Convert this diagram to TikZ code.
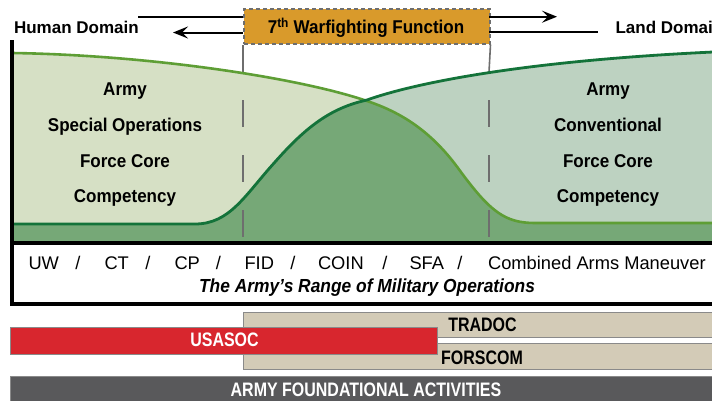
\documentclass[tikz,border=0pt]{standalone}
\usepackage{fontspec}
\setmainfont{Liberation Sans}
\newfontfamily\fN{Liberation Sans}
\newfontfamily\fA[FakeStretch=0.92]{Liberation Sans}
\newfontfamily\fB[FakeStretch=0.82]{Liberation Sans}
\usetikzlibrary{arrows.meta}
\definecolor{orangebox}{HTML}{D99A2B}
\definecolor{lgreen}{HTML}{D6E0C5}
\definecolor{rgreen}{HTML}{BDD2C1}
\definecolor{mgreen}{HTML}{76A877}
\definecolor{lline}{HTML}{5E9E35}
\definecolor{dline}{HTML}{14733A}
\definecolor{tanbar}{HTML}{D3CBB7}
\definecolor{redbar}{HTML}{D8262E}
\definecolor{darkbar}{HTML}{59595B}
\definecolor{guide}{HTML}{6E6E6E}
\definecolor{barline}{HTML}{8A8A8A}
\def\lightcurve{(12,53) .. controls (150,55) and (300,78) .. (367,101) .. controls (400,112) and (430,130) .. (458,168) .. controls (490,212) and (505,223) .. (535,223) -- (713,223)}
\def\darkcurve{(12,224) -- (195,224) .. controls (230,224) and (245,195) .. (275,162) .. controls (305,128) and (330,108) .. (367,100) .. controls (400,88) and (500,62) .. (713,52)}
\begin{document}
\begin{tikzpicture}[x=1pt,y=-1pt,
  domtext/.style={anchor=base west,font=\fN\bfseries\fontsize{17}{20}\selectfont},
  coretext/.style={anchor=base,font=\fA\bfseries\fontsize{18.5}{20}\selectfont},
  opstext/.style={anchor=base west,font=\fN\fontsize{18.3}{20}\selectfont},
  slashtext/.style={anchor=base,font=\fN\fontsize{18.3}{20}\selectfont},
  bartext/.style={anchor=base,font=\fB\bfseries\fontsize{19.5}{20}\selectfont},
  arr/.style={line width=2pt,-{Stealth[length=15pt,width=12pt,inset=6pt]}},
  plainline/.style={line width=2pt},
  guideline/.style={guide,line width=1.6pt},
  frameline/.style={line width=3.5pt,black},
  barbox/.style={draw=barline,line width=1pt}]
\useasboundingbox (0,0) rectangle (712,400);
\clip (0,0) rectangle (712,400);
\fill[white] (0,0) rectangle (712,400);

% curve regions
\fill[lgreen] \lightcurve -- (713,243) -- (12,243) -- cycle;
\fill[rgreen] \darkcurve -- (713,243) -- (12,243) -- cycle;
\begin{scope}
  \clip \lightcurve -- (713,243) -- (12,243) -- cycle;
  \fill[mgreen] \darkcurve -- (713,243) -- (12,243) -- cycle;
\end{scope}

% warfighting box and guide lines
\node[draw=guide,dash pattern=on 4pt off 3pt,line width=1.5pt,fill=orangebox,minimum width=246pt,minimum height=35pt,inner sep=0pt,anchor=north west] (wf) at (243,8) {};
\node[anchor=base,font=\fA\bfseries\fontsize{18.5}{20}\selectfont] (wflabel) at (366,33.3) {7\textsuperscript{th} Warfighting Function};
\coordinate (gl1) at (243,72);
\coordinate (gr1) at (489,72);
\draw[guideline] (wf.south west) -- (gl1);
\draw[guideline] (wf.south east) -- (gr1);
\coordinate (gl2) at (243,100);
\coordinate (gl3) at (243,237);
\coordinate (gr2) at (489,100);
\coordinate (gr3) at (489,237);
\draw[guideline,dash pattern=on 27pt off 28pt] (gl2) -- (gl3);
\draw[guideline,dash pattern=on 27pt off 28pt] (gr2) -- (gr3);

% curves
\draw[lline,line width=2.6pt] \lightcurve;
\draw[dline,line width=2.8pt] \darkcurve;

% domain arrows
\coordinate (la) at (243,16.5);
\coordinate (lb) at (137.5,16.5);
\coordinate (lc) at (243,32.5);
\coordinate (ld) at (173,32.5);
\coordinate (ra) at (489,16.7);
\coordinate (rb) at (557,16.7);
\coordinate (rc) at (489,32);
\coordinate (rd) at (598,32);
\draw[plainline] (la) -- (lb);
\draw[arr] (lc) -- (ld);
\draw[arr] (ra) -- (rb);
\draw[plainline] (rc) -- (rd);
\node[domtext] (human) at (10.5,33.3) {Human Domain};
\node[domtext] (land) at (612,33.3) {Land Domain};

% core competency texts
\node[coretext] (sa) at (125,95.7) {Army};
\node[coretext] (sb) at (125,131.4) {Special Operations};
\node[coretext] (sc) at (125,167) {Force Core};
\node[coretext] (sd) at (125,202.7) {Competency};
\node[coretext] (ca) at (608,95.7) {Army};
\node[coretext] (cb) at (608,131.4) {Conventional};
\node[coretext] (cc) at (608,167) {Force Core};
\node[coretext] (cd) at (608,202.7) {Competency};

% frame
\draw[frameline] (12,40) -- (12,305.75);
\draw[frameline] (10.25,243) -- (713,243);
\draw[frameline] (10.25,304) -- (713,304);

% range of operations
\node[opstext] (uw) at (25,269) {UW};
\node[slashtext] (s1) at (78,269) {/};
\node[opstext] (ct) at (101,269) {CT};
\node[slashtext] (s2) at (148,269) {/};
\node[opstext] (cp) at (171,269) {CP};
\node[slashtext] (s3) at (218.5,269) {/};
\node[opstext] (fid) at (241,269) {FID};
\node[slashtext] (s4) at (293,269) {/};
\node[opstext] (coin) at (314.5,269) {COIN};
\node[slashtext] (s5) at (385,269) {/};
\node[opstext] (sfa) at (406,269) {SFA};
\node[slashtext] (s6) at (460,269) {/};
\node[opstext] (cam) at (484.5,269) {Combined Arms Maneuver};
\node[anchor=base,font=\fA\bfseries\itshape\fontsize{18.9}{20}\selectfont] (range) at (367,292.5) {The Army’s Range of Military Operations};

% command bars
\draw[barbox,fill=tanbar] (243,312) rectangle (714,337);
\draw[barbox,fill=tanbar] (243,343.5) rectangle (714,369);
\draw[barbox,fill=redbar] (10,327) rectangle (437,354);
\draw[draw=barline,line width=0.8pt,fill=darkbar] (10,376) rectangle (714,402);
\node[bartext,white] (usasoc) at (224.5,346.7) {USASOC};
\node[bartext,black] (tradoc) at (482.5,331.7) {TRADOC};
\node[bartext,black] (forscom) at (482,364) {FORSCOM};
\node[bartext,white] (found) at (366,396.7) {ARMY FOUNDATIONAL ACTIVITIES};
\end{tikzpicture}
\end{document}
